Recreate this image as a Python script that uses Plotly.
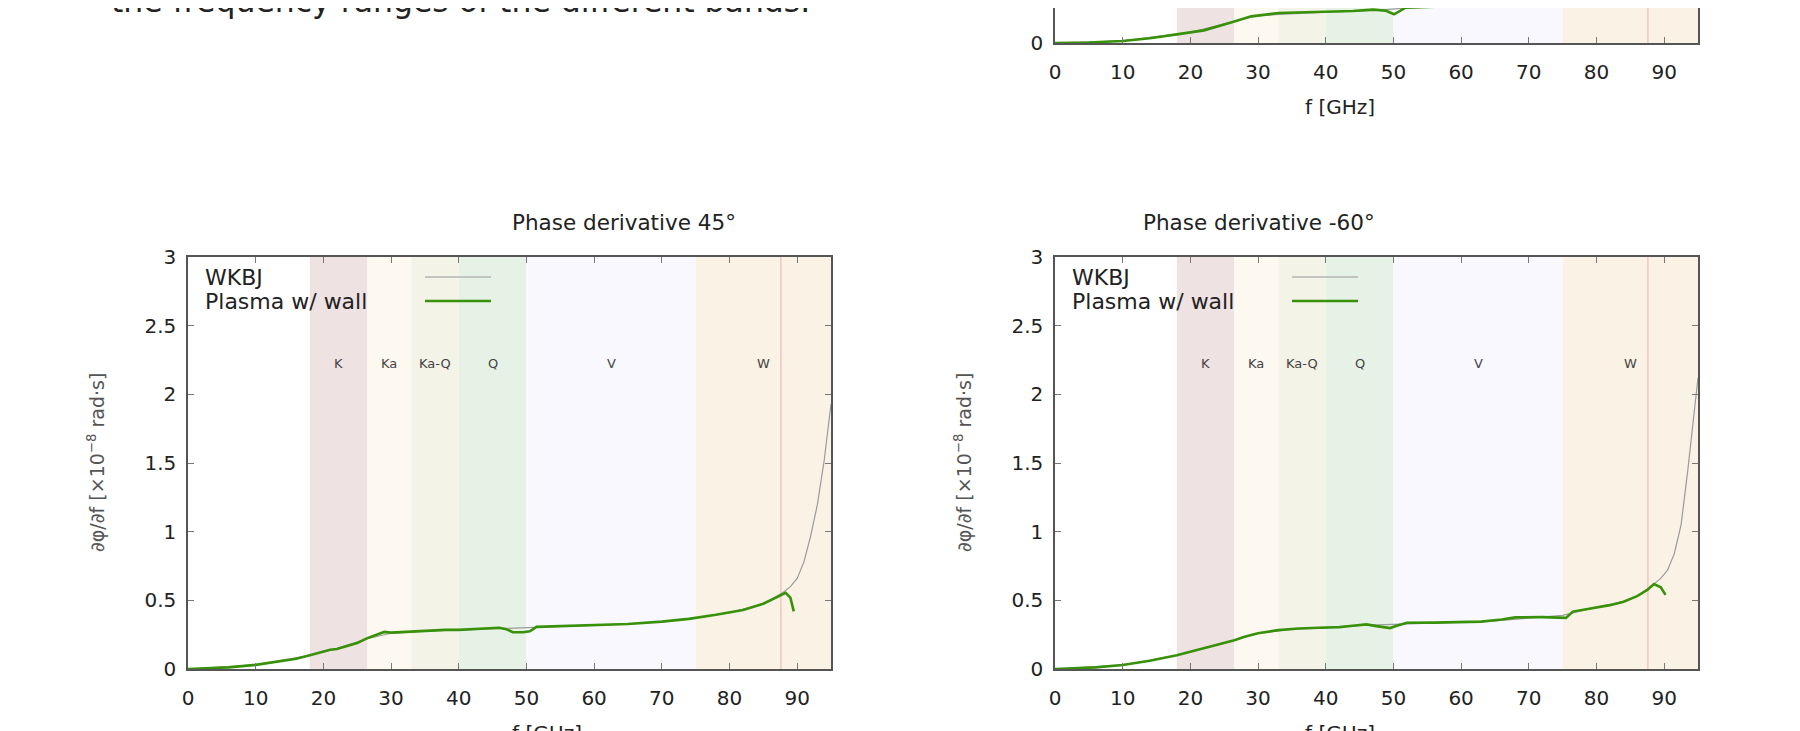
import plotly.graph_objects as go

# ---------------- data ----------------
freq_tr = [0, 5, 10, 14, 18, 22, 26, 29, 33, 37, 40.5, 44, 47, 48.9, 50.1, 51.8, 55, 60.6, 64.6, 69.4, 75, 80, 85]
plasma_tr = [0, 0.004, 0.015, 0.035, 0.063, 0.092, 0.15, 0.194, 0.218, 0.222, 0.225, 0.233, 0.243, 0.235, 0.209,
             0.257, 0.262, 0.27, 0.276, 0.291, 0.31, 0.34, 0.4]
freq_tr_w = [0, 10, 20, 26, 30, 40, 48, 52, 60, 70, 80, 85]
wkbj_tr = [0, 0.015, 0.078, 0.15, 0.2, 0.224, 0.24, 0.255, 0.27, 0.293, 0.34, 0.4]

freq45 = [0, 3, 6, 10, 13, 16, 18, 20, 21, 22, 23, 24, 25, 26.5, 28, 29, 30, 32, 34, 36, 38, 40, 42, 44, 46, 47,
          48, 49.5, 50.5, 51.5, 55, 60, 65, 70, 74, 78, 82, 85, 87, 88.3, 89, 89.5]
plasma45 = [0, 0.004, 0.012, 0.03, 0.05, 0.075, 0.1, 0.125, 0.14, 0.145, 0.16, 0.17, 0.19, 0.225, 0.255, 0.27,
            0.265, 0.27, 0.278, 0.28, 0.285, 0.285, 0.29, 0.293, 0.3, 0.29, 0.268, 0.268, 0.275, 0.307, 0.312,
            0.318, 0.328, 0.345, 0.365, 0.395, 0.43, 0.475, 0.525, 0.555, 0.52, 0.42]
freq45_w = [0, 10, 18, 22, 26.5, 30, 35, 40, 45, 50, 55, 60, 65, 70, 75, 80, 84, 86, 88, 89, 90, 91, 92, 93, 94, 95]
wkbj45 = [0, 0.03, 0.1, 0.15, 0.22, 0.26, 0.275, 0.285, 0.295, 0.3, 0.31, 0.318, 0.328, 0.345, 0.37, 0.41, 0.46,
          0.5, 0.56, 0.6, 0.66, 0.78, 0.97, 1.2, 1.52, 1.93]

freq60 = [0, 3, 6, 10, 14, 18, 22, 26.5, 28, 30, 33, 36, 39, 42, 44, 46, 47.5, 49.5, 50.5, 52, 56, 60, 63, 66, 68,
          72, 74.5, 75.5, 76.5, 79, 82, 84, 86, 87.5, 88.5, 89.5, 90.2]
plasma60 = [0, 0.004, 0.012, 0.029, 0.06, 0.1, 0.15, 0.21, 0.235, 0.26, 0.283, 0.295, 0.3, 0.305, 0.315, 0.325,
            0.312, 0.298, 0.315, 0.337, 0.338, 0.34, 0.345, 0.36, 0.376, 0.378, 0.37, 0.372, 0.418, 0.44, 0.465,
            0.49, 0.53, 0.575, 0.618, 0.595, 0.54]
freq60_w = [0, 10, 18, 22, 26.5, 30, 35, 40, 45, 50, 55, 60, 65, 70, 75, 80, 84, 86, 88, 89.5, 90.5, 91.5, 92.5,
            93.5, 94.3, 95]
wkbj60 = [0, 0.029, 0.1, 0.15, 0.21, 0.26, 0.29, 0.3, 0.318, 0.325, 0.335, 0.34, 0.35, 0.37, 0.39, 0.45, 0.49,
          0.53, 0.6, 0.66, 0.72, 0.84, 1.05, 1.45, 1.8, 2.12]

band_names = ["K", "Ka", "Ka-Q", "Q", "V", "W"]
band_lo = [18, 26.5, 33, 40, 50, 75]
band_hi = [26.5, 33, 40, 50, 75, 110]
band_colors = ["#efe2e2", "#fdf8f0", "#f4f3e7", "#e7f2e6", "#f8f8fe", "#fbf2e6"]
cutoff_freq = 87.6

y_ticks = [0, 0.5, 1, 1.5, 2, 2.5, 3]
y_tick_text = ["0", "0.5", "1", "1.5", "2", "2.5", "3"]
x_ticks = [0, 10, 20, 30, 40, 50, 60, 70, 80, 90]

titles = ["Phase derivative 45°", "Phase derivative -60°"]
legend_names = ["WKBJ", "Plasma w/ wall"]
x_title = "f [GHz]"
y_title = "∂φ/∂f [×10<sup>−8</sup> rad·s]"
top_text = "the frequency ranges of the different bands."

# ---------------- figure ----------------
W, H = 1800, 731
OFF = 8  # page body margin compensation (screen px -> figure px)
FONT = "DejaVu Sans"
GREEN = "#379109"
GREY = "#9a9a9a"
AX = "#555555"


def fx(px):
    return (px - OFF) / W


def fy(py):
    return (H - (py - OFF)) / H


fig = go.Figure()

panels = [
    # (xaxis id, yaxis id, screen px x0, x1, screen py top, bottom)
    ("x", "y", 188, 831, 257, 669),
    ("x2", "y2", 1055, 1698, 257, 669),
    ("x3", "y3", 1055, 1698, OFF, 43),
]
data_sets = [
    (freq45_w, wkbj45, freq45, plasma45),
    (freq60_w, wkbj60, freq60, plasma60),
    (freq_tr_w, wkbj_tr, freq_tr, plasma_tr),
]

for (xa, ya, *_), (fw, vw, fp, vp) in zip(panels, data_sets):
    fig.add_trace(go.Scatter(x=fw, y=vw, mode="lines", line=dict(color=GREY, width=1.2),
                             xaxis=xa, yaxis=ya, showlegend=False, name=legend_names[0]))
    fig.add_trace(go.Scatter(x=fp, y=vp, mode="lines", line=dict(color=GREEN, width=2.6),
                             xaxis=xa, yaxis=ya, showlegend=False, name=legend_names[1]))

shapes = []
annotations = []
layout_axes = {}
unit_px = 412 / 3.0

for i, (xa, ya, px0, px1, pyt, pyb) in enumerate(panels):
    xname = "xaxis" + ("" if xa == "x" else xa[1:])
    yname = "yaxis" + ("" if ya == "y" else ya[1:])
    top_panel = (i == 2)
    xdom = [fx(px0), fx(px1)]
    ydom = [fy(pyb), 1.0 if top_panel else fy(pyt)]
    # top-right panel: its upper part lies above the visible page; show only the visible value span
    ymax = 3 if not top_panel else (pyb - 0) / unit_px
    if top_panel:
        ymax = (pyb - OFF) / unit_px + 0.0  # value at the figure's top edge
        ymax = (pyb - 0) / unit_px * (pyb - OFF) / pyb
    layout_axes[xname] = dict(
        domain=xdom, range=[0, 95], anchor=ya, tickvals=x_ticks, ticks="inside", ticklen=6,
        tickcolor="#777", showline=True, linecolor=AX, linewidth=1.5, automargin=False,
        mirror=False if top_panel else "allticks", showgrid=False, zeroline=False,
        tickfont=dict(family=FONT, size=20, color="#222"), ticklabelstandoff=10,
    )
    layout_axes[yname] = dict(
        domain=ydom, range=[0, ymax], anchor=xa, tickvals=[0] if top_panel else y_ticks,
        ticktext=["0"] if top_panel else y_tick_text, ticks="inside", ticklen=6, tickcolor="#777",
        showline=True, linecolor=AX, linewidth=1.5, mirror="allticks", showgrid=False, zeroline=False,
        automargin=False, tickfont=dict(family=FONT, size=20, color="#222"), ticklabelstandoff=6,
    )
    # bands
    for name, lo, hi, col in zip(band_names, band_lo, band_hi, band_colors):
        shapes.append(dict(type="rect", xref=xa, yref=ya + " domain", x0=lo, x1=min(hi, 95), y0=0, y1=1,
                           fillcolor=col, line=dict(width=0), layer="below"))
        if not top_panel:
            annotations.append(dict(xref=xa, yref=ya, x=(lo + min(hi, 95)) / 2, y=2.225, text=name,
                                    showarrow=False, font=dict(family=FONT, size=13, color="#444")))
    shapes.append(dict(type="line", xref=xa, yref=ya + " domain", x0=cutoff_freq, x1=cutoff_freq, y0=0, y1=1,
                       line=dict(color="#f4c4c4", width=1.5), layer="below"))
    # x title
    annotations.append(dict(xref="paper", yref="paper", x=fx((px0 + px1) / 2), y=fy(pyb + 64),
                            text=x_title, showarrow=False, yanchor="middle",
                            font=dict(family=FONT, size=20, color="#222")))
    if not top_panel:
        annotations.append(dict(xref="paper", yref="paper", x=fx((px0 + px1) / 2), y=fy(pyt - 35),
                                text=titles[i], showarrow=False, yanchor="middle",
                                font=dict(family=FONT, size=21.5, color="#222")))
        annotations.append(dict(xref="paper", yref="paper", x=fx(px0 - 92), y=fy((pyt + pyb) / 2),
                                text=y_title, textangle=-90, showarrow=False, xanchor="center",
                                yanchor="middle", font=dict(family=FONT, size=19, color="#555")))
        for nm, col, wd, yy in zip(legend_names, ["#b4b4b4", GREEN], [1.5, 2.6], [277, 301]):
            annotations.append(dict(xref="paper", yref="paper", x=fx(px0 + 15), y=fy(yy), text=nm,
                                    showarrow=False, xanchor="left", yanchor="middle",
                                    font=dict(family=FONT, size=22, color="#222")))
            shapes.append(dict(type="line", xref="paper", yref="paper", x0=fx(px0 + 237), x1=fx(px0 + 303),
                               y0=fy(yy), y1=fy(yy), line=dict(color=col, width=wd)))

annotations.append(dict(xref="paper", yref="paper", x=fx(109), y=fy(21), text=top_text, showarrow=False,
                        xanchor="left", yanchor="bottom", font=dict(family=FONT, size=31.5, color="#222")))

fig.update_layout(
    width=W, height=H, margin=dict(l=0, r=0, t=0, b=0, autoexpand=False), paper_bgcolor="white",
    plot_bgcolor="white", shapes=shapes, annotations=annotations, showlegend=False, **layout_axes,
)

fig.write_html("out.html")
